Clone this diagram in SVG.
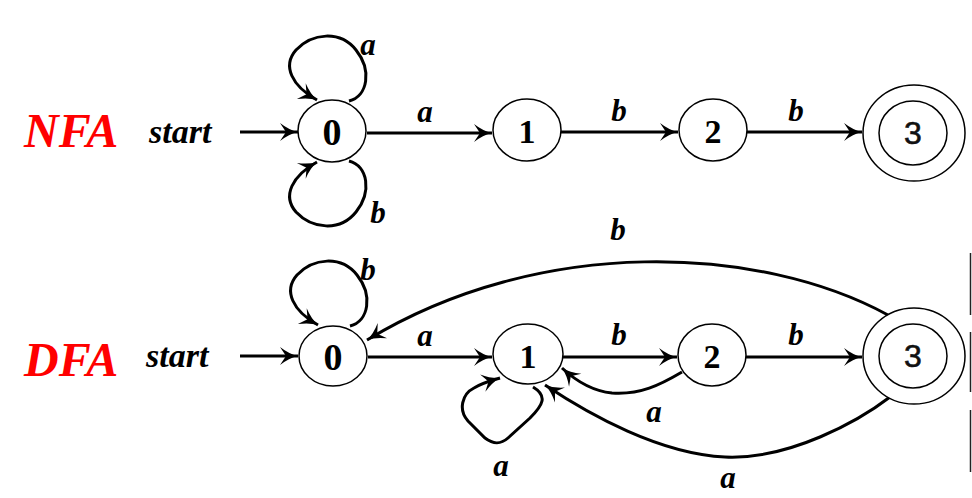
<svg xmlns="http://www.w3.org/2000/svg" width="972" height="498" viewBox="0 0 972 498">
<style>
.node{fill:#fff;stroke:#000;stroke-width:1.5}
.edge{fill:none;stroke:#000;stroke-width:3;marker-end:url(#ah)}
.dig{font-family:"Liberation Serif","Times New Roman",serif;font-weight:bold;font-size:34px;fill:#000;text-anchor:middle}
.dig0{font-size:38px}
.sans{font-family:"Liberation Sans","Open Sans",Arial,sans-serif;font-weight:normal;font-size:32px;fill:#111;stroke:#111;stroke-width:0.6;text-anchor:middle}
.lbl{font-family:"Liberation Serif","Times New Roman",serif;font-style:italic;font-weight:bold;font-size:31px;fill:#000;text-anchor:middle}
.title{font-family:"Liberation Serif","Times New Roman",serif;font-style:italic;font-weight:bold;font-size:48px;fill:#ff0000}
.start{font-family:"Liberation Serif","Times New Roman",serif;font-style:italic;font-weight:bold;font-size:34px;fill:#000}
</style>
<defs>
<marker id="ah" markerUnits="userSpaceOnUse" viewBox="-20 -11 22 22" refX="0" refY="0" markerWidth="22" markerHeight="22" orient="auto">
<path d="M-18,-9 Q-9,-2 0,0 Q-9,2 -18,9 L-12,0 z" fill="#000"/>
</marker>
</defs>

<text class="title" x="24" y="147">NFA</text>
<text class="start" x="149" y="143">start</text>
<text class="title" x="24" y="376">DFA</text>
<text class="start" x="146" y="367">start</text>

<g id="connectors">
<!-- NFA -->
<path class="edge" d="M240,132 L298,132"/>
<path class="edge" d="M349,101 C368,96 372,70 356,50 C340,30 312,33 296,50 C282,66 292,86 317,100"/>
<path class="edge" d="M349,161 C368,166 372,192 356,212 C340,232 312,229 296,212 C282,196 292,176 317,162"/>
<path class="edge" d="M367,133 L492,133"/>
<path class="edge" d="M561,132 L678,132"/>
<path class="edge" d="M747,132 L862,132"/>
<!-- DFA -->
<path class="edge" d="M240,356 L298,356"/>
<path class="edge" d="M350,326 C369,321 373,295 357,275 C341,255 313,258 297,275 C283,291 293,311 318,325"/>
<path class="edge" d="M368,357 L492,357"/>
<path class="edge" d="M562,357 L677,357"/>
<path class="edge" d="M746,357 L862,357"/>
<path class="edge" d="M888,315 C760,245 540,235 367,340"/>
<path class="edge" d="M682,372 C660,385 640,395 612,393 C592,391 576,381 562,368"/>
<path class="edge" d="M890,397 C860,420 790,460 725,457 C660,454 590,415 545,385"/>
<path class="edge" d="M533,387 C548,396 543,405 530,418 L508,438 C500,445 493,444 485,438 L468,421 C458,410 462,394 474,388 C482,383 490,381 500,378"/>
</g>

<g id="labels">
<text class="lbl" x="368" y="55">a</text>
<text class="lbl" x="378" y="223">b</text>
<text class="lbl" x="425" y="122">a</text>
<text class="lbl" x="619" y="121">b</text>
<text class="lbl" x="796" y="121">b</text>
<text class="lbl" x="368" y="280">b</text>
<text class="lbl" x="618" y="240">b</text>
<text class="lbl" x="425" y="346">a</text>
<text class="lbl" x="619" y="345">b</text>
<text class="lbl" x="796" y="345">b</text>
<text class="lbl" x="654" y="422">a</text>
<text class="lbl" x="501" y="476">a</text>
<text class="lbl" x="728" y="488">a</text>
</g>

<g id="nfa0"><ellipse class="node" cx="332" cy="131" rx="34" ry="31"/><text class="dig dig0" x="332" y="145">0</text></g>
<g id="nfa1"><ellipse class="node" cx="527" cy="130" rx="34" ry="31"/><text class="dig" x="527" y="143">1</text></g>
<g id="nfa2"><ellipse class="node" cx="713" cy="130" rx="34" ry="31"/><text class="dig" x="713" y="143">2</text></g>
<g id="nfa3"><ellipse class="node" cx="914" cy="133" rx="51" ry="48"/><ellipse class="node" cx="913" cy="133" rx="34" ry="32"/><text class="sans" x="913" y="144">3</text></g>

<g id="dfa0"><ellipse class="node" cx="333" cy="356" rx="34" ry="30"/><text class="dig dig0" x="333" y="370">0</text></g>
<g id="dfa1"><ellipse class="node" cx="528" cy="354" rx="35" ry="30"/><text class="dig" x="528" y="368">1</text></g>
<g id="dfa2"><ellipse class="node" cx="712" cy="355" rx="34" ry="31"/><text class="dig" x="712" y="368">2</text></g>
<g id="dfa3"><ellipse class="node" cx="914" cy="356" rx="51" ry="48"/><ellipse class="node" cx="913" cy="356" rx="34" ry="32"/><text class="sans" x="913" y="367">3</text></g>

<g id="edgebars" stroke="#222" stroke-width="1.5">
<line x1="970.5" y1="253" x2="970.5" y2="315"/>
<line x1="970.5" y1="332" x2="970.5" y2="392"/>
<line x1="970.5" y1="410" x2="970.5" y2="472"/>
</g>
</svg>
